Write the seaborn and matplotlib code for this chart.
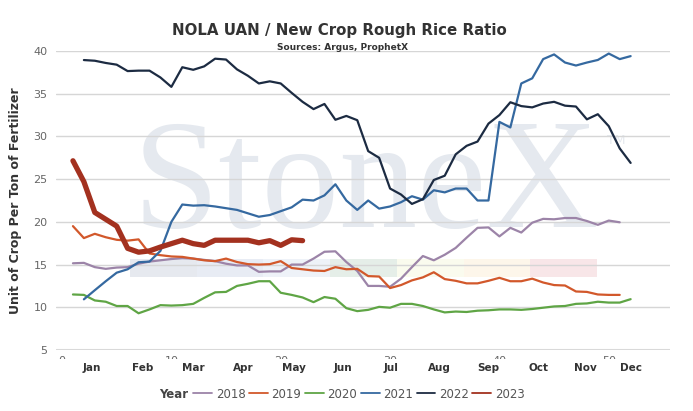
"""
NOLA UAN / new crop rough rice ratio, weekly, one line per year.
"""

import matplotlib.pyplot as plt
import matplotlib.transforms as mtransforms
import numpy as np
import seaborn as sns
from matplotlib.lines import Line2D
from matplotlib.patches import Rectangle

# weekly ratio values (start week noted per year)
START_WEEK = {"2018": 1, "2019": 1, "2020": 1, "2021": 2, "2022": 2, "2023": 1}

RATIO_2018 = [15.15, 15.2, 14.7, 14.5, 14.65, 14.7, 15.1, 15.35, 15.5, 15.65,
              15.75, 15.7, 15.55, 15.4, 15.1, 14.9, 14.9, 14.15, 14.2, 14.2,
              15.0, 15.0, 15.7, 16.5, 16.55, 15.3, 14.25, 12.5, 12.5, 12.4,
              13.35, 14.7, 16.0, 15.5, 16.15, 16.95, 18.15, 19.3, 19.35, 18.3,
              19.3, 18.75, 19.9, 20.35, 20.3, 20.45, 20.45, 20.1, 19.65, 20.15, 19.95]
RATIO_2019 = [19.5, 18.1, 18.6, 18.2, 17.9, 17.8, 17.95, 16.3, 16.1, 15.95,
              15.9, 15.7, 15.5, 15.4, 15.7, 15.3, 15.05, 15.0, 15.05, 15.4,
              14.6, 14.45, 14.3, 14.25, 14.7, 14.45, 14.5, 13.65, 13.6, 12.25,
              12.6, 13.15, 13.5, 14.1, 13.3, 13.1, 12.8, 12.8, 13.1, 13.45,
              13.05, 13.05, 13.35, 12.9, 12.6, 12.55, 11.85, 11.8, 11.5, 11.45, 11.45]
RATIO_2020 = [11.5, 11.45, 10.8, 10.65, 10.15, 10.15, 9.3, 9.75, 10.25, 10.2,
              10.25, 10.4, 11.1, 11.75, 11.8, 12.5, 12.75, 13.05, 13.05, 11.7,
              11.45, 11.15, 10.6, 11.2, 11.0, 9.9, 9.55, 9.7, 10.05, 9.95,
              10.4, 10.4, 10.15, 9.75, 9.4, 9.5, 9.45, 9.6, 9.65, 9.75,
              9.75, 9.7, 9.8, 9.95, 10.1, 10.15, 10.4, 10.45, 10.65, 10.55, 10.55, 10.95]
RATIO_2021 = [10.93, 12.0, 13.05, 14.05, 14.45, 15.27, 15.35, 16.6, 20.0, 22.03,
              21.9, 21.95, 21.8, 21.6, 21.4, 21.0, 20.6, 20.8, 21.25, 21.7,
              22.6, 22.5, 23.1, 24.4, 22.5, 21.4, 22.5, 21.55, 21.8, 22.3,
              23.0, 22.6, 23.7, 23.45, 23.9, 23.9, 22.5, 22.5, 31.7, 31.05,
              36.2, 36.8, 39.05, 39.6, 38.65, 38.3, 38.65, 38.95, 39.7, 39.05, 39.4]
RATIO_2022 = [38.94, 38.86, 38.6, 38.4, 37.65, 37.7, 37.7, 36.9, 35.8, 38.1,
              37.8, 38.2, 39.1, 39.0, 37.85, 37.1, 36.2, 36.45, 36.2, 35.1,
              34.05, 33.2, 33.8, 31.95, 32.4, 31.9, 28.28, 27.5, 23.9, 23.2,
              22.1, 22.65, 24.9, 25.4, 27.9, 28.9, 29.4, 31.5, 32.5, 34.0,
              33.55, 33.4, 33.85, 34.05, 33.6, 33.5, 32.0, 32.6, 31.2, 28.6, 26.9]
RATIO_2023 = [27.15, 24.7, 21.1, 20.3, 19.5, 16.9, 16.45, 16.6, 17.05, 17.45,
              17.85, 17.45, 17.25, 17.85, 17.85, 17.85, 17.85, 17.55, 17.8, 17.25,
              17.9, 17.8]

SERIES = {"2018": RATIO_2018, "2019": RATIO_2019, "2020": RATIO_2020,
          "2021": RATIO_2021, "2022": RATIO_2022, "2023": RATIO_2023}

YEAR_COLORS = {"2018": "#9c84a8", "2019": "#d2582b", "2020": "#5fa545",
               "2021": "#3569a0", "2022": "#1c2b42", "2023": "#a3311f"}
YEAR_WIDTH = {"2018": 1.6, "2019": 1.6, "2020": 1.6, "2021": 1.6, "2022": 1.6, "2023": 3.8}

MONTHS = ["Jan", "Feb", "Mar", "Apr", "May", "Jun",
          "Jul", "Aug", "Sep", "Oct", "Nov", "Dec"]
MONTH_POS = [2.75, 7.4, 12.0, 16.55, 21.2, 25.7, 30.1, 34.5, 39.0, 43.6, 47.9, 52.0]

WEEK_TICKS = [0, 10, 20, 30, 40, 50]
Y_TICKS = [5, 10, 15, 20, 25, 30, 35, 40]

# colour strip of the watermark logo
LOGO_STRIP = ["#e6e9ef", "#e8ecf4", "#eef2f8", "#e5eee8", "#fafbee", "#fdf6ea", "#f8e6e8"]

sns.set_style("white")
plt.rcParams["font.family"] = ["DejaVu Sans"]

fig = plt.figure(figsize=(6.93, 4.11), dpi=100)
W, H = 693, 411
ax = fig.add_axes([56 / W, 1 - 350 / H, 614 / W, 299 / H])

# watermark
ax.text(0.124, 0.41, "StoneX", transform=ax.transAxes, family="Liberation Serif",
        fontsize=112, color="#e5e9ef", ha="left", va="baseline", zorder=0)
ax.text(0.897, 0.70, "TM", transform=ax.transAxes, fontsize=9, color="#e5e9ef",
        ha="left", va="center", zorder=0)
seg_w = (597 - 130) / 7 / 614
for i, c in enumerate(LOGO_STRIP):
    ax.add_patch(Rectangle(((130 - 56) / 614 + i * seg_w, (350 - 277) / 299), seg_w,
                           18 / 299, transform=ax.transAxes, color=c, lw=0, zorder=0.5))

for year, vals in SERIES.items():
    weeks = np.arange(START_WEEK[year], START_WEEK[year] + len(vals))
    sns.lineplot(x=weeks, y=vals, color=YEAR_COLORS[year], linewidth=YEAR_WIDTH[year],
                 ax=ax, zorder=3, solid_joinstyle="round", solid_capstyle="round")

ax.set_xlim(-0.55, 55.6)
ax.set_ylim(5, 40)
ax.set_yticks(Y_TICKS)
ax.set_xticks(WEEK_TICKS)
ax.tick_params(axis="y", length=0, pad=6, labelsize=8, labelcolor="#666666")
ax.tick_params(axis="x", length=0, pad=4, labelsize=8, labelcolor="#666666")
ax.grid(axis="y", color="#d6d6d6", linewidth=1, zorder=1)
ax.set_axisbelow(True)
for s in ax.spines.values():
    s.set_visible(False)
ax.axhline(5, color="#d9d9d9", linewidth=2.2, zorder=1.5)

ax.set_ylabel("Unit of Crop Per Ton of Fertilizer", fontsize=9, fontweight="bold",
              color="#333333")
ax.yaxis.set_label_coords(-0.055, 0.5)

# month labels sit over the week numbers, hiding most of them
cover = Rectangle((40 / W, 1 - 378 / H), 640 / W, 19.5 / H, transform=fig.transFigure,
                  facecolor="white", lw=0, zorder=5)
fig.patches.append(cover)
month_tf = mtransforms.blended_transform_factory(ax.transData, fig.transFigure)
for m, pos in zip(MONTHS, MONTH_POS):
    fig.text(pos, 1 - 368 / H, m, transform=month_tf, fontsize=7.5, fontweight="bold",
             color="#333333", ha="center", va="center", zorder=6)

fig.text(0.49, 1 - 31 / H, "NOLA UAN / New Crop Rough Rice Ratio", fontsize=10.8,
         fontweight="bold", color="#333333", ha="center", va="center")
fig.text(0.495, 1 - 48 / H, "Sources: Argus, ProphetX", fontsize=6.5,
         fontweight="bold", color="#333333", ha="center", va="center")

handles = [Line2D([], [], color=YEAR_COLORS[y], linewidth=1.3) for y in SERIES]
fig.legend(handles, list(SERIES), loc="center", bbox_to_anchor=(359 / W, 1 - 394 / H),
           ncol=6, frameon=False, fontsize=8.5, handlelength=1.6, handletextpad=0.3,
           columnspacing=0.3, labelcolor="#555555")
fig.text(174 / W, 1 - 394 / H, "Year", fontsize=8.5, fontweight="bold",
         color="#444444", ha="center", va="center")

fig.savefig("out.png", dpi=100)
